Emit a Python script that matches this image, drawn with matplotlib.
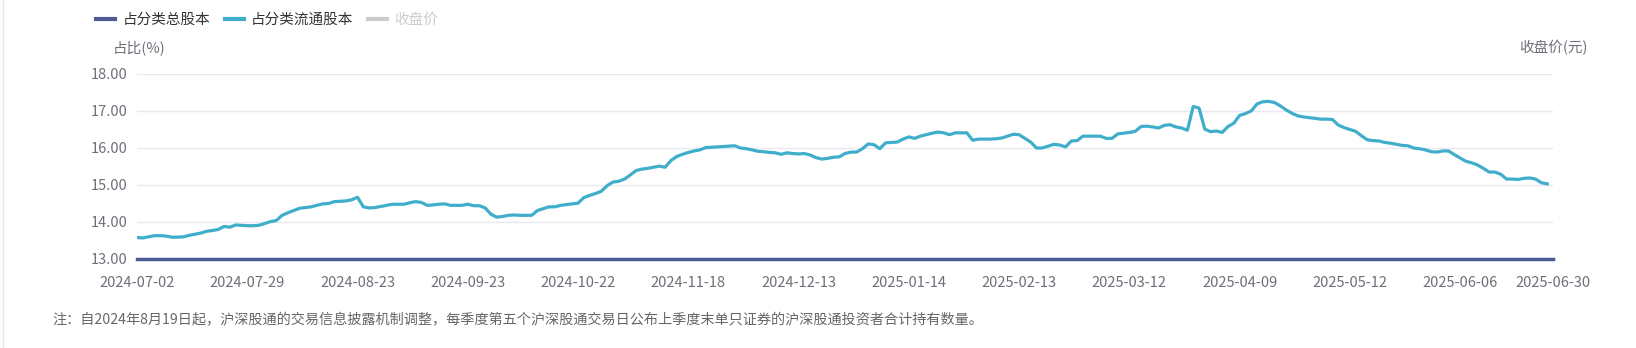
import matplotlib
matplotlib.use("Agg")
import matplotlib.pyplot as plt
from matplotlib.lines import Line2D

plt.rcParams['font.family'] = ['Noto Sans CJK SC', 'DejaVu Sans']

# x axis: trading days, 2024-07-02 .. 2025-06-30 (245 categories)
n_days = 245
tick_labels = ["2024-07-02", "2024-07-29", "2024-08-23", "2024-09-23", "2024-10-22",
               "2024-11-18", "2024-12-13", "2025-01-14", "2025-02-13", "2025-03-12",
               "2025-04-09", "2025-05-12", "2025-06-06", "2025-06-30"]
tick_pos = list(range(0, n_days, 19)) + [n_days - 1]

# 占分类流通股本 (%)
float_share = [
    13.58, 13.57, 13.60, 13.63, 13.63, 13.62, 13.59, 13.59, 13.60, 13.64,
    13.67, 13.70, 13.75, 13.77, 13.80, 13.88, 13.86, 13.92, 13.91, 13.90,
    13.90, 13.91, 13.96, 14.01, 14.04, 14.18, 14.25, 14.31, 14.37, 14.39,
    14.41, 14.45, 14.49, 14.50, 14.55, 14.56, 14.57, 14.60, 14.67, 14.41,
    14.38, 14.39, 14.42, 14.45, 14.48, 14.48, 14.48, 14.52, 14.55, 14.53,
    14.45, 14.46, 14.48, 14.49, 14.45, 14.45, 14.45, 14.48, 14.44, 14.44,
    14.38, 14.21, 14.13, 14.15, 14.18, 14.19, 14.18, 14.18, 14.18, 14.31,
    14.36, 14.41, 14.41, 14.45, 14.47, 14.49, 14.51, 14.66, 14.72, 14.77,
    14.83, 14.98, 15.08, 15.10, 15.16, 15.27, 15.39, 15.43, 15.45, 15.48,
    15.51, 15.48, 15.66, 15.77, 15.83, 15.88, 15.92, 15.95, 16.01, 16.02,
    16.03, 16.04, 16.05, 16.06, 16.00, 15.98, 15.95, 15.91, 15.90, 15.88,
    15.87, 15.83, 15.87, 15.85, 15.84, 15.85, 15.81, 15.74, 15.70, 15.72,
    15.75, 15.76, 15.85, 15.89, 15.89, 15.98, 16.11, 16.09, 15.98, 16.14,
    16.15, 16.16, 16.24, 16.30, 16.26, 16.32, 16.36, 16.40, 16.43, 16.41,
    16.36, 16.41, 16.41, 16.41, 16.21, 16.24, 16.24, 16.24, 16.25, 16.27,
    16.32, 16.37, 16.36, 16.26, 16.16, 16.00, 16.00, 16.05, 16.10, 16.08,
    16.03, 16.19, 16.20, 16.32, 16.32, 16.32, 16.32, 16.26, 16.26, 16.38,
    16.40, 16.42, 16.45, 16.58, 16.59, 16.57, 16.54, 16.61, 16.63, 16.57,
    16.54, 16.48, 17.12, 17.08, 16.51, 16.44, 16.46, 16.42, 16.58, 16.67,
    16.88, 16.93, 17.00, 17.19, 17.25, 17.26, 17.23, 17.14, 17.03, 16.94,
    16.87, 16.84, 16.82, 16.80, 16.78, 16.78, 16.77, 16.62, 16.55, 16.50,
    16.45, 16.33, 16.22, 16.20, 16.19, 16.15, 16.13, 16.10, 16.07, 16.06,
    16.00, 15.98, 15.95, 15.90, 15.89, 15.92, 15.92, 15.82, 15.73, 15.64,
    15.60, 15.54, 15.45, 15.35, 15.35, 15.29, 15.16, 15.16, 15.15, 15.18,
    15.19, 15.16, 15.06, 15.03,
]

y_ticks = [13, 14, 15, 16, 17, 18]

legend_names = ["占分类总股本", "占分类流通股本", "收盘价"]
c_total = "#4c5b92"
c_float = "#40aecb"
c_price = "#cccccc"
text_color = "#6e7079"
grid_color = "#e9e9f3"

note = "注：自2024年8月19日起，沪深股通的交易信息披露机制调整，每季度第五个沪深股通交易日公布上季度末单只证券的沪深股通投资者合计持有数量。"

fig = plt.figure(figsize=(16.36, 3.48), dpi=100)
ax = fig.add_axes([137 / 1636, 1 - 259 / 348, (1553 - 137) / 1636, (259 - 74) / 348])

ax.plot(range(len(float_share)), float_share, color=c_float, lw=2.3, solid_joinstyle='round')

ax.set_xlim(0, n_days - 1)
ax.set_ylim(13, 18)
ax.set_yticks(y_ticks)
ax.set_yticklabels([f"{v:.2f}" for v in y_ticks])
ax.set_xticks(tick_pos)
ax.set_xticklabels(tick_labels)
ax.tick_params(axis='both', length=0, labelsize=10.5, labelcolor=text_color)
ax.tick_params(axis='x', pad=12)
ax.tick_params(axis='y', pad=7)

for v in y_ticks[1:]:
    ax.axhline(v, color=grid_color, lw=1, zorder=0)

for s in ['top', 'right', 'left']:
    ax.spines[s].set_visible(False)
ax.spines['bottom'].set_color(c_total)
ax.spines['bottom'].set_linewidth(2.5)

# axis names
fig.text(113 / 1636, 1 - 48 / 348, "占比(%)", fontsize=10.5, color=text_color, va='center')
fig.text(1519 / 1636, 1 - 48 / 348, "收盘价(元)", fontsize=10.5, color=text_color, va='center')

# legend
handles = [Line2D([], [], color=c, lw=3) for c in (c_total, c_float, c_price)]
leg = fig.legend(handles, legend_names, loc='center left', bbox_to_anchor=(83 / 1636, 1 - 20 / 348),
                 ncol=3, frameon=False, fontsize=10.5, handlelength=1.3, handletextpad=0.5,
                 columnspacing=1.0)
for t, c in zip(leg.get_texts(), ("#333333", "#333333", c_price)):
    t.set_color(c)

fig.text(52 / 1636, 1 - 320 / 348, note, fontsize=10.2, color="#666666", va='center')

# container border on the left
fig.add_artist(Line2D([2.5 / 1636, 2.5 / 1636], [0, 1], color="#e6e6f0", lw=1))

fig.savefig("out.png", dpi=100)
